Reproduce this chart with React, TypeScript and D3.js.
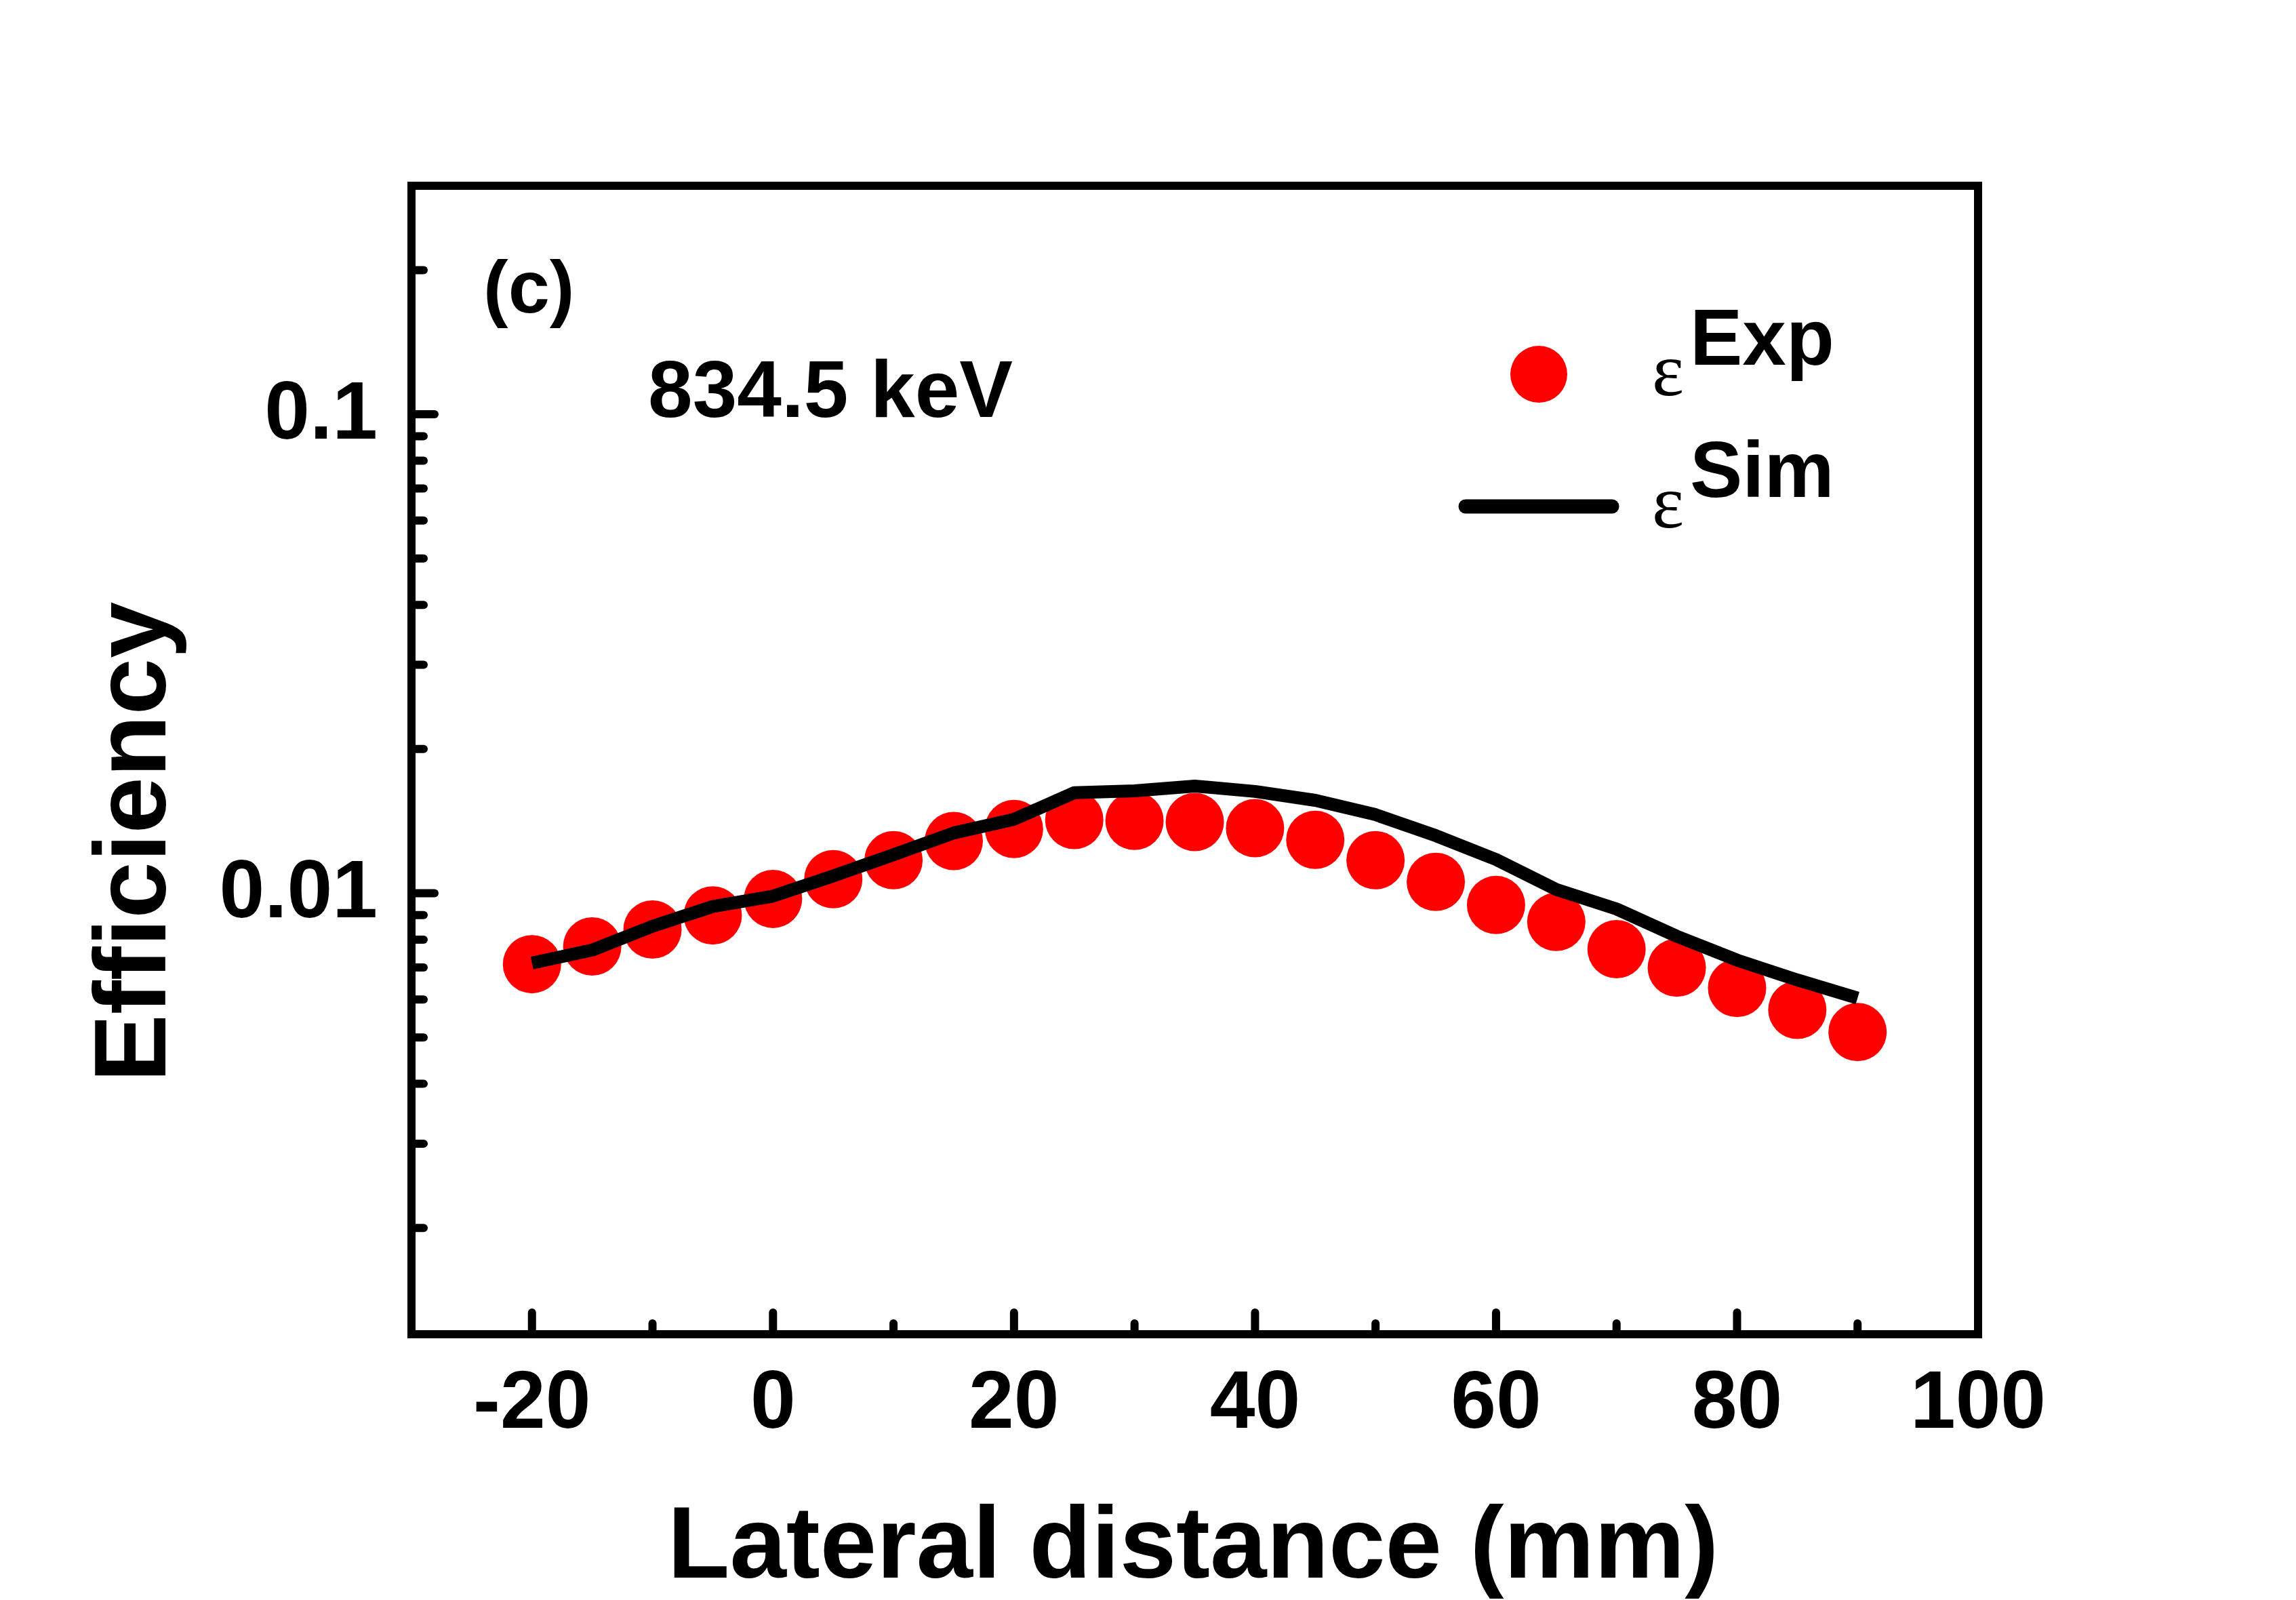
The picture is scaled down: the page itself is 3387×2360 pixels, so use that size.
import * as d3 from "d3";

// lateral distance (mm)
const distances = [
  -20, -15, -10, -5, 0, 5, 10, 15, 20, 25, 30, 35, 40, 45, 50, 55, 60, 65, 70,
  75, 80, 85, 90,
];

// measured efficiency (red dots)
const expEff = [
  0.00711, 0.00774, 0.0084, 0.00899, 0.00973, 0.0107, 0.01172, 0.01285,
  0.01362, 0.01422, 0.01416, 0.01408, 0.01367, 0.01293, 0.01172, 0.01056,
  0.00945, 0.00871, 0.00764, 0.00699, 0.00634, 0.00571, 0.00513,
];

// simulated efficiency (black line)
const simEff = [
  0.00715, 0.00761, 0.00853, 0.00938, 0.00986, 0.01087, 0.01203, 0.01336,
  0.01427, 0.01621, 0.01636, 0.01674, 0.01631, 0.01563, 0.01459, 0.01319,
  0.01176, 0.01018, 0.00927, 0.00813, 0.00725, 0.00659, 0.00604,
];

const xMajor = [-20, 0, 20, 40, 60, 80, 100];
const xMinor = [-10, 10, 30, 50, 70, 90];
const yMajor = [0.01, 0.1];
const yMajorLabels = ["0.01", "0.1"];
const yMinor = [
  0.002, 0.003, 0.004, 0.005, 0.006, 0.007, 0.008, 0.009, 0.02, 0.03, 0.04,
  0.05, 0.06, 0.07, 0.08, 0.09, 0.2,
];

const W = 3387;
const H = 2360;
const frame = { left: 607, top: 274, right: 2918, bottom: 1968 };
const sans = "'Liberation Sans', Arial, sans-serif";
const serif = "'Liberation Serif', 'Times New Roman', serif";

export default function App() {
  const x = d3.scaleLinear().domain([-30, 100]).range([frame.left, frame.right]);
  const y = d3.scaleLog().domain([0.0012, 0.3]).range([frame.bottom, frame.top]);

  const simLine = d3
    .line<number>()
    .x((_, i) => x(distances[i]))
    .y((d) => y(d));

  return (
    <svg
      width={W}
      height={H}
      style={{ position: "absolute", left: 0, top: 0, background: "#fff" }}
    >
      {/* data */}
      {expEff.map((d, i) => (
        <circle key={i} cx={x(distances[i])} cy={y(d)} r={43} fill="#ff0000" />
      ))}
      <path
        d={simLine(simEff) ?? ""}
        fill="none"
        stroke="#000"
        strokeWidth={19}
        strokeLinejoin="round"
      />

      {/* ticks */}
      <g stroke="#000" strokeWidth={12} strokeLinecap="round">
        {xMajor.map((t) => (
          <line key={"xM" + t} x1={x(t)} x2={x(t)} y1={frame.bottom} y2={frame.bottom - 32} />
        ))}
        {xMinor.map((t) => (
          <line key={"xm" + t} x1={x(t)} x2={x(t)} y1={frame.bottom} y2={frame.bottom - 16} />
        ))}
        {yMajor.map((t) => (
          <line key={"yM" + t} x1={frame.left} x2={frame.left + 34} y1={y(t)} y2={y(t)} />
        ))}
        {yMinor.map((t) => (
          <line key={"ym" + t} x1={frame.left} x2={frame.left + 18} y1={y(t)} y2={y(t)} />
        ))}
      </g>

      {/* frame */}
      <rect
        x={frame.left}
        y={frame.top}
        width={frame.right - frame.left}
        height={frame.bottom - frame.top}
        fill="none"
        stroke="#000"
        strokeWidth={12}
      />

      {/* tick labels */}
      <g fontFamily={sans} fontWeight="bold" fontSize={120} fill="#000">
        {xMajor.map((t) => (
          <text key={"xl" + t} x={x(t)} y={2106} textAnchor="middle">
            {t}
          </text>
        ))}
        {yMajor.map((t, i) => (
          <text key={"yl" + t} x={557} y={y(t) + 36} textAnchor="end">
            {yMajorLabels[i]}
          </text>
        ))}
      </g>

      {/* axis titles */}
      <text
        x={1760}
        y={2327}
        textAnchor="middle"
        fontFamily={sans}
        fontWeight="bold"
        fontSize={150}
      >
        Lateral distance (mm)
      </text>
      <text
        transform="translate(244,1242) rotate(-90)"
        textAnchor="middle"
        fontFamily={sans}
        fontWeight="bold"
        fontSize={150}
      >
        Efficiency
      </text>

      {/* annotations */}
      <text x={713} y={461} fontFamily={sans} fontWeight="bold" fontSize={110}>
        (c)
      </text>
      <text x={956} y={615} fontFamily={sans} fontWeight="bold" fontSize={118}>
        834.5 keV
      </text>

      {/* legend */}
      <circle cx={2270} cy={552} r={42} fill="#ff0000" />
      <line
        x1={2162}
        x2={2378}
        y1={747}
        y2={747}
        stroke="#000"
        strokeWidth={21}
        strokeLinecap="round"
      />
      <text x={2437} y={583} fontFamily={serif} fontSize={112}>
        ε
      </text>
      <text x={2493} y={538} fontFamily={sans} fontWeight="bold" fontSize={116}>
        Exp
      </text>
      <text x={2437} y={778} fontFamily={serif} fontSize={112}>
        ε
      </text>
      <text x={2493} y={733} fontFamily={sans} fontWeight="bold" fontSize={116}>
        Sim
      </text>
    </svg>
  );
}
